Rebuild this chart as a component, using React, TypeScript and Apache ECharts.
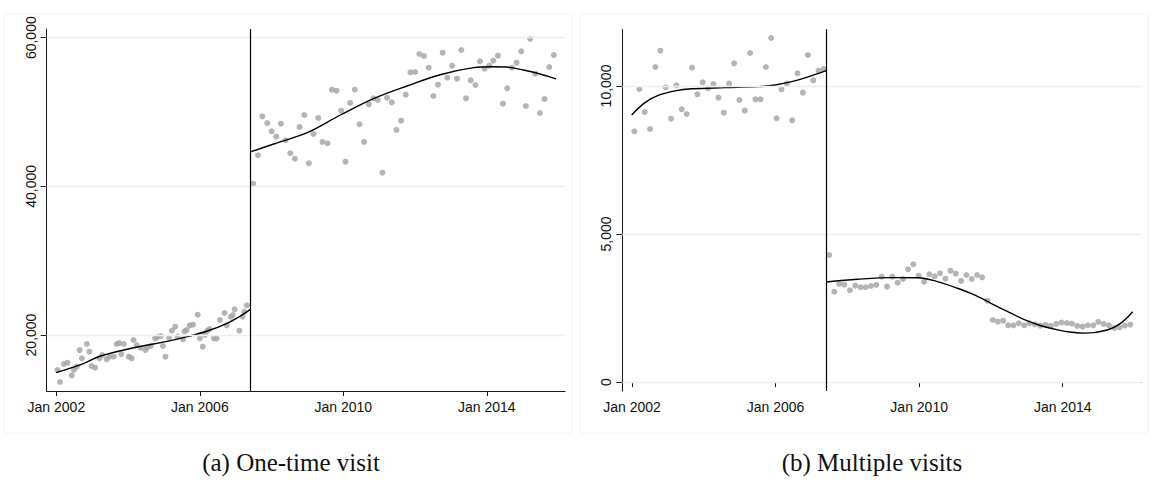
import React, { useEffect, useRef } from "react";
import * as echarts from "echarts";

// ---------- Data ----------
const xTickYears = [2002, 2006, 2010, 2014];
const leftYTicks = [20000, 40000, 60000];
const rightYTicks = [0, 5000, 10000];
const cutoff = 2007.41;

const leftPreDates = [2002.03, 2002.10, 2002.21, 2002.31, 2002.43, 2002.49, 2002.57, 2002.65, 2002.71, 2002.85, 2002.92, 2002.98, 2003.08, 2003.20, 2003.28, 2003.40, 2003.48, 2003.60, 2003.68, 2003.75, 2003.81, 2003.88, 2004.02, 2004.10, 2004.15, 2004.24, 2004.35, 2004.48, 2004.53, 2004.63, 2004.75, 2004.81, 2004.91, 2004.97, 2005.04, 2005.14, 2005.22, 2005.31, 2005.38, 2005.53, 2005.57, 2005.63, 2005.72, 2005.81, 2005.94, 2006.00, 2006.08, 2006.14, 2006.21, 2006.27, 2006.39, 2006.47, 2006.56, 2006.69, 2006.75, 2006.86, 2006.92, 2006.97, 2007.10, 2007.19, 2007.24, 2007.31];
const leftPreValues = [15293, 13678, 16100, 16280, 14580, 15293, 15740, 17980, 16860, 18790, 17760, 15830, 15600, 16860, 17310, 16730, 17080, 17080, 18790, 18920, 17440, 18790, 17080, 16860, 19330, 18660, 18250, 17980, 18350, 18520, 19550, 19690, 19870, 18520, 17080, 19640, 20580, 21120, 19780, 19420, 20500, 20670, 21300, 21390, 22730, 19550, 18430, 20000, 20580, 20810, 19550, 19550, 22020, 22960, 21300, 22460, 22690, 23450, 20580, 22460, 23130, 23990];

const leftPostDates = [2007.49, 2007.62, 2007.74, 2007.88, 2008.00, 2008.13, 2008.26, 2008.39, 2008.52, 2008.65, 2008.78, 2008.91, 2009.04, 2009.17, 2009.30, 2009.42, 2009.56, 2009.68, 2009.81, 2009.94, 2010.06, 2010.19, 2010.32, 2010.45, 2010.58, 2010.71, 2010.84, 2010.96, 2011.09, 2011.22, 2011.35, 2011.48, 2011.61, 2011.74, 2011.87, 2012.00, 2012.12, 2012.25, 2012.38, 2012.51, 2012.64, 2012.77, 2012.90, 2013.03, 2013.17, 2013.29, 2013.42, 2013.55, 2013.68, 2013.81, 2013.94, 2014.07, 2014.18, 2014.31, 2014.45, 2014.57, 2014.70, 2014.83, 2014.96, 2015.09, 2015.21, 2015.35, 2015.48, 2015.61, 2015.74, 2015.87];
const leftPostValues = [40363, 44183, 49428, 48527, 47410, 46685, 48433, 46200, 44452, 43725, 47990, 49603, 43107, 47048, 49200, 45972, 45797, 53006, 52872, 50181, 43322, 51218, 53006, 48352, 45972, 51039, 51845, 51620, 41843, 51930, 51310, 47586, 48836, 52337, 55346, 55387, 57808, 57539, 55965, 52159, 53679, 57983, 54620, 56234, 54486, 58346, 51845, 54270, 53638, 56826, 55831, 56234, 56907, 57579, 51123, 53194, 55965, 56638, 58170, 50814, 59825, 55158, 49872, 51755, 56059, 57673];

const leftPreFitDates = [2001.99, 2002.77, 2003.23, 2004.16, 2005.09, 2005.65, 2006.21, 2006.76, 2007.13, 2007.41];
const leftPreFitValues = [14930, 16190, 17176, 18290, 19150, 19780, 20540, 21570, 22560, 23450];
const leftPostFitDates = [2007.43, 2008.06, 2008.99, 2009.92, 2010.84, 2011.77, 2012.70, 2013.63, 2014.18, 2014.55, 2015.02, 2015.49, 2015.93];
const leftPostFitValues = [44670, 45700, 47220, 49600, 51800, 53500, 55020, 55970, 56100, 56060, 55650, 55120, 54450];

const rightPreDates = [2002.065, 2002.204, 2002.353, 2002.502, 2002.651, 2002.790, 2002.939, 2003.088, 2003.237, 2003.386, 2003.525, 2003.674, 2003.822, 2003.971, 2004.120, 2004.269, 2004.408, 2004.557, 2004.706, 2004.845, 2004.994, 2005.143, 2005.291, 2005.440, 2005.580, 2005.729, 2005.877, 2006.026, 2006.166, 2006.314, 2006.463, 2006.612, 2006.761, 2006.900, 2007.049, 2007.198, 2007.337];
const rightPreValues = [8469, 9899, 9122, 8547, 10642, 11193, 9955, 8896, 10022, 9212, 9054, 10619, 9719, 10124, 9921, 10068, 9606, 9099, 10079, 10766, 9527, 9167, 11115, 9550, 9550, 10642, 11621, 8908, 9888, 10079, 8841, 10428, 9775, 11047, 10191, 10518, 10574];

const rightPostDates = [2007.495, 2007.635, 2007.775, 2007.914, 2008.072, 2008.220, 2008.368, 2008.508, 2008.658, 2008.806, 2008.954, 2009.105, 2009.252, 2009.400, 2009.551, 2009.690, 2009.838, 2009.986, 2010.137, 2010.285, 2010.432, 2010.583, 2010.731, 2010.870, 2011.018, 2011.169, 2011.317, 2011.465, 2011.615, 2011.755, 2011.902, 2012.050, 2012.190, 2012.340, 2012.480, 2012.628, 2012.775, 2012.926, 2013.074, 2013.222, 2013.373, 2013.520, 2013.668, 2013.819, 2013.967, 2014.115, 2014.254, 2014.405, 2014.552, 2014.700, 2014.851, 2014.990, 2015.138, 2015.286, 2015.437, 2015.584, 2015.732, 2015.883];
const rightPostValues = [4291, 3052, 3312, 3289, 3099, 3255, 3200, 3200, 3244, 3278, 3558, 3221, 3558, 3356, 3480, 3808, 3977, 3592, 3390, 3640, 3571, 3673, 3491, 3761, 3660, 3413, 3615, 3480, 3615, 3537, 2747, 2095, 2038, 2072, 1916, 1916, 1984, 1916, 1984, 1950, 1905, 1927, 1893, 1961, 2005, 1994, 1973, 1893, 1871, 1916, 1916, 2028, 1961, 1916, 1826, 1848, 1905, 1939];

const rightPreFitDates = [2001.99, 2002.36, 2002.73, 2003.20, 2003.67, 2004.59, 2005.52, 2005.99, 2006.45, 2006.92, 2007.41];
const rightPreFitValues = [9020, 9440, 9680, 9835, 9905, 9943, 9977, 10034, 10145, 10314, 10517];
const rightPostFitDates = [2007.41, 2008.28, 2009.21, 2009.96, 2010.42, 2011.07, 2011.54, 2012.00, 2012.47, 2012.93, 2013.40, 2013.86, 2014.25, 2014.63, 2015.24, 2015.61, 2015.95];
const rightPostFitValues = [3380, 3470, 3525, 3520, 3423, 3166, 2940, 2659, 2376, 2110, 1900, 1760, 1680, 1650, 1757, 1982, 2376];

const captions = ["(a) One-time visit", "(b) Multiple visits"];

// ---------- Chart ----------
const zip = (xs: number[], ys: number[]) => xs.map((x, i) => [x, ys[i]]);
const fmtNum = (v: number) => Math.round(v).toLocaleString("en-US");

const DOT = "#a3a3a3";
const AXIS = "#1a1a1a";
const GRIDC = "#e9f0f3";
const FONT = "'Liberation Sans', Arial, sans-serif";

function xAxisFor(gridIndex: number) {
  return {
    type: "value",
    gridIndex,
    min: 2001.73,
    max: 2016.18,
    axisLine: { show: true, lineStyle: { color: AXIS, width: 1 } },
    axisTick: { show: true, length: 5, customValues: xTickYears, lineStyle: { color: AXIS } },
    axisLabel: {
      customValues: xTickYears,
      formatter: (v: number) => "Jan " + Math.round(v),
      fontFamily: FONT,
      fontSize: 14,
      color: "#111",
      margin: 9,
    },
    splitLine: { show: false },
  };
}

function yAxisFor(gridIndex: number, min: number, max: number, ticks: number[]) {
  return {
    type: "value",
    gridIndex,
    min,
    max,
    axisLine: { show: true, lineStyle: { color: AXIS, width: 1 } },
    axisTick: { show: true, length: 6, customValues: ticks, lineStyle: { color: AXIS } },
    axisLabel: {
      customValues: ticks,
      rotate: 90,
      formatter: (v: number) => fmtNum(v),
      fontFamily: FONT,
      fontSize: 14,
      color: "#111",
      margin: 9,
    },
    splitLine: { show: false },
  };
}

function panelSeries(
  idx: number,
  pre: number[][],
  post: number[][],
  preFit: number[][],
  postFit: number[][],
  gridVals: number[]
) {
  return [
    {
      type: "line",
      xAxisIndex: idx,
      yAxisIndex: idx,
      data: [],
      z: 1,
      silent: true,
      markLine: {
        symbol: "none",
        silent: true,
        label: { show: false },
        lineStyle: { color: GRIDC, width: 1.3, type: "solid" },
        data: gridVals.map((v) => ({ yAxis: v })),
      },
    },
    {
      type: "scatter",
      xAxisIndex: idx,
      yAxisIndex: idx,
      data: pre,
      symbolSize: 6,
      itemStyle: { color: DOT },
      z: 2,
    },
    {
      type: "scatter",
      xAxisIndex: idx,
      yAxisIndex: idx,
      data: post,
      symbolSize: 6,
      itemStyle: { color: DOT },
      z: 2,
    },
    {
      type: "line",
      xAxisIndex: idx,
      yAxisIndex: idx,
      data: preFit,
      smooth: 0.35,
      showSymbol: false,
      lineStyle: { color: "#000", width: 1.4 },
      z: 3,
    },
    {
      type: "line",
      xAxisIndex: idx,
      yAxisIndex: idx,
      data: postFit,
      smooth: 0.35,
      showSymbol: false,
      lineStyle: { color: "#000", width: 1.4 },
      z: 3,
    },
    {
      type: "line",
      xAxisIndex: idx,
      yAxisIndex: idx,
      data: [],
      z: 4,
      silent: true,
      markLine: {
        symbol: "none",
        silent: true,
        label: { show: false },
        lineStyle: { color: "#000", width: 1.2, type: "solid" },
        data: [{ xAxis: cutoff }],
      },
    },
  ];
}

export default function App() {
  const ref = useRef<HTMLDivElement>(null);

  useEffect(() => {
    if (!ref.current) return;
    const chart = echarts.init(ref.current, undefined, { renderer: "svg" });
    chart.setOption({
      animation: false,
      backgroundColor: "#ffffff",
      grid: [
        { left: 46.7, top: 29, width: 518.3, height: 362 },
        { left: 622.3, top: 29.3, width: 518.7, height: 361.7 },
      ],
      xAxis: [xAxisFor(0), xAxisFor(1)],
      yAxis: [
        yAxisFor(0, 12468, 61170, leftYTicks),
        yAxisFor(1, -304, 11915, rightYTicks),
      ],
      series: [
        ...panelSeries(
          0,
          zip(leftPreDates, leftPreValues),
          zip(leftPostDates, leftPostValues),
          zip(leftPreFitDates, leftPreFitValues),
          zip(leftPostFitDates, leftPostFitValues),
          leftYTicks
        ),
        ...panelSeries(
          1,
          zip(rightPreDates, rightPreValues),
          zip(rightPostDates, rightPostValues),
          zip(rightPreFitDates, rightPreFitValues),
          zip(rightPostFitDates, rightPostFitValues),
          rightYTicks
        ),
      ],
      graphic: [
        {
          type: "rect",
          shape: { x: 4, y: 14, width: 568, height: 419 },
          style: { fill: "none", stroke: "#f4f4f4", lineWidth: 1 },
          silent: true,
          z: -1,
        },
        {
          type: "rect",
          shape: { x: 580, y: 14, width: 568, height: 419 },
          style: { fill: "none", stroke: "#f4f4f4", lineWidth: 1 },
          silent: true,
          z: -1,
        },
        {
          type: "text",
          x: 291,
          y: 462,
          style: {
            text: captions[0],
            fill: "#111",
            font: "25px 'Liberation Serif', 'Times New Roman', serif",
            textAlign: "center",
            textVerticalAlign: "middle",
          },
        },
        {
          type: "text",
          x: 872,
          y: 462,
          style: {
            text: captions[1],
            fill: "#111",
            font: "25px 'Liberation Serif', 'Times New Roman', serif",
            textAlign: "center",
            textVerticalAlign: "middle",
          },
        },
      ],
    });
    return () => chart.dispose();
  }, []);

  return (
    <div
      ref={ref}
      style={{ position: "fixed", left: 0, top: 0, width: 1151, height: 487 }}
    />
  );
}
